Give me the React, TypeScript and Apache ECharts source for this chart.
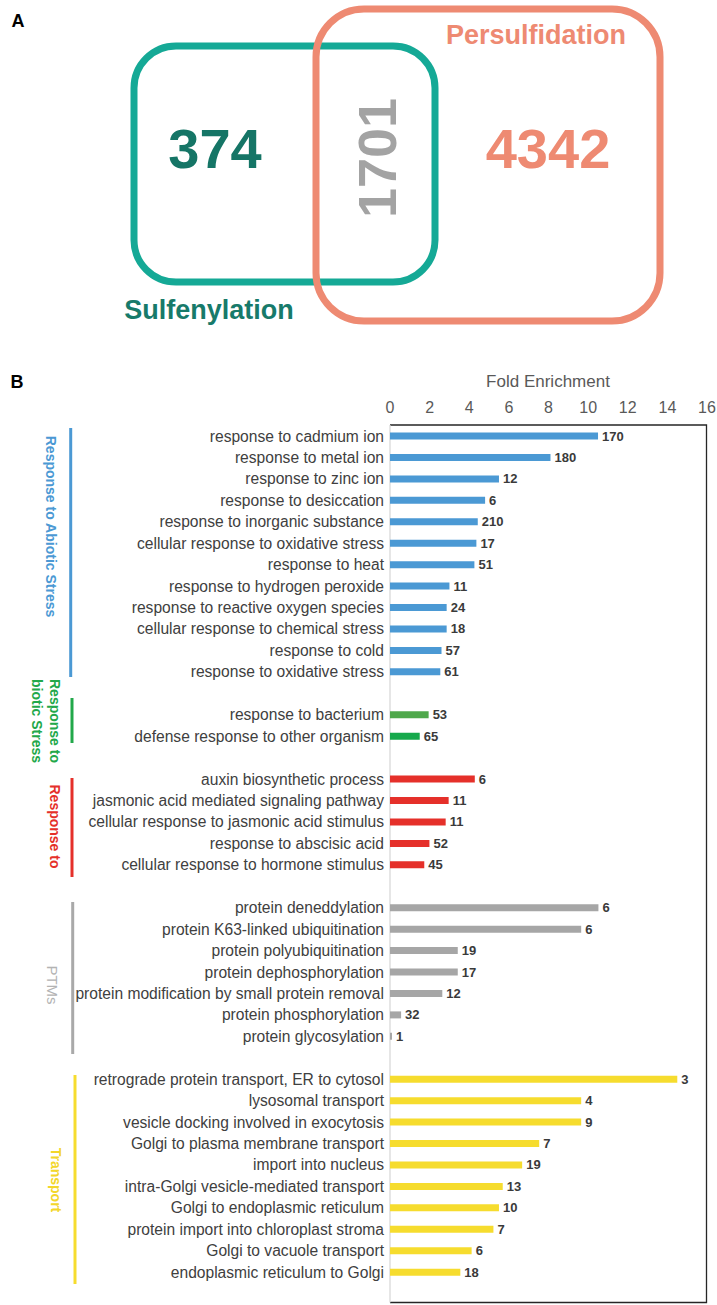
import React, { useEffect, useRef } from "react";
import * as echarts from "echarts";

// ---------- Panel A: Venn counts ----------
const vennLabels = ["Sulfenylation", "Persulfidation"];
const vennOnlySulf = 374;
const vennShared = 1701;
const vennOnlyPersulf = 4342;

// ---------- Panel B: GO enrichment ----------
const abioticTerms = [
  "response to cadmium ion",
  "response to metal ion",
  "response to zinc ion",
  "response to desiccation",
  "response to inorganic substance",
  "cellular response to oxidative stress",
  "response to heat",
  "response to hydrogen peroxide",
  "response to reactive oxygen species",
  "cellular response to chemical stress",
  "response to cold",
  "response to oxidative stress",
];
const abioticFold = [10.5, 8.1, 5.5, 4.8, 4.43, 4.36, 4.26, 3.0, 2.86, 2.86, 2.6, 2.54];
const abioticCount = [170, 180, 12, 6, 210, 17, 51, 11, 24, 18, 57, 61];

const bioticTerms = ["response to bacterium", "defense response to other organism"];
const bioticFold = [1.95, 1.5];
const bioticCount = [53, 65];

const hormoneTerms = [
  "auxin biosynthetic process",
  "jasmonic acid mediated signaling pathway",
  "cellular response to jasmonic acid stimulus",
  "response to abscisic acid",
  "cellular response to hormone stimulus",
];
const hormoneFold = [4.28, 2.96, 2.81, 1.99, 1.73];
const hormoneCount = [6, 11, 11, 52, 45];

const ptmTerms = [
  "protein deneddylation",
  "protein K63-linked ubiquitination",
  "protein polyubiquitination",
  "protein dephosphorylation",
  "protein modification by small protein removal",
  "protein phosphorylation",
  "protein glycosylation",
];
const ptmFold = [10.52, 9.65, 3.42, 3.42, 2.64, 0.56, 0.1];
const ptmCount = [6, 6, 19, 17, 12, 32, 1];

const transportTerms = [
  "retrograde protein transport, ER to cytosol",
  "lysosomal transport",
  "vesicle docking involved in exocytosis",
  "Golgi to plasma membrane transport",
  "import into nucleus",
  "intra-Golgi vesicle-mediated transport",
  "Golgi to endoplasmic reticulum",
  "protein import into chloroplast stroma",
  "Golgi to vacuole transport",
  "endoplasmic reticulum to Golgi",
];
const transportFold = [14.5, 9.65, 9.65, 7.53, 6.67, 5.69, 5.5, 5.22, 4.12, 3.55];
const transportCount = [3, 4, 9, 7, 19, 13, 10, 7, 6, 18];

const xTicks = { min: 0, max: 16, interval: 2 };

const abioticColor = "#4b99d4";
const bioticColors = ["#4fa84b", "#16a94c"];
const hormoneColor = "#e5302a";
const ptmColor = "#a6a6a6";
const transportColor = "#f6dc2e";

const FONT = "'Liberation Sans', Arial, Helvetica, sans-serif";

function buildRows() {
  const groups = [
    { terms: abioticTerms, fold: abioticFold, count: abioticCount, colors: abioticTerms.map(() => abioticColor) },
    { terms: bioticTerms, fold: bioticFold, count: bioticCount, colors: bioticColors },
    { terms: hormoneTerms, fold: hormoneFold, count: hormoneCount, colors: hormoneTerms.map(() => hormoneColor) },
    { terms: ptmTerms, fold: ptmFold, count: ptmCount, colors: ptmTerms.map(() => ptmColor) },
    { terms: transportTerms, fold: transportFold, count: transportCount, colors: transportTerms.map(() => transportColor) },
  ];
  const cats: string[] = [];
  const data: any[] = [];
  const counts: (number | null)[] = [];
  groups.forEach((g, gi) => {
    if (gi > 0) {
      cats.push(" ".repeat(gi));
      data.push("-");
      counts.push(null);
    }
    g.terms.forEach((t, i) => {
      cats.push(t);
      data.push({ value: g.fold[i], itemStyle: { color: g.colors[i] } });
      counts.push(g.count[i]);
    });
  });
  return { cats, data, counts };
}

export default function App() {
  const ref = useRef<HTMLDivElement>(null);
  useEffect(() => {
    document.body.style.margin = "0";
    const chart = echarts.init(ref.current!, null, { renderer: "svg" });
    const { cats, data, counts } = buildRows();

    const gridTop = 425.3;
    const slot = 21.44;
    const gridH = slot * cats.length;

    const groupText = (text: string, x: number, y: number, color: string, weight = "bold", size = 14) => ({
      type: "text",
      x,
      y,
      rotation: -Math.PI / 2,
      style: {
        text,
        fill: color,
        fontSize: size,
        fontWeight: weight,
        fontFamily: FONT,
        lineHeight: 18,
        textAlign: "center",
        textVerticalAlign: "middle",
      },
    });
    const groupLine = (x: number, y1: number, y2: number, color: string) => ({
      type: "line",
      shape: { x1: x, y1, x2: x, y2 },
      style: { stroke: color, lineWidth: 3 },
    });

    const option: any = {
      animation: false,
      grid: { left: 390, top: gridTop, width: 317, height: gridH, outerBoundsMode: "none" },
      xAxis: {
        type: "value",
        position: "top",
        min: xTicks.min,
        max: xTicks.max,
        interval: xTicks.interval,
        axisLine: { show: false },
        axisTick: { show: false },
        splitLine: { show: false },
        axisLabel: { fontSize: 16, color: "#595959", fontFamily: FONT, margin: 10 },
      },
      yAxis: {
        type: "category",
        inverse: true,
        data: cats,
        axisLine: { show: false },
        axisTick: { show: false },
        axisLabel: { fontSize: 15.6, color: "#404040", fontFamily: FONT, margin: 6 },
      },
      series: [
        {
          type: "bar",
          data,
          barWidth: 7,
          label: {
            show: true,
            position: "right",
            distance: 4,
            fontSize: 13,
            fontWeight: "bold",
            color: "#3a3a3a",
            fontFamily: FONT,
            formatter: (p: any) => (counts[p.dataIndex] == null ? "" : String(counts[p.dataIndex])),
          },
        },
      ],
      graphic: [
        // Panel labels
        { type: "text", x: 18, y: 21, style: { text: "A", fontSize: 18, fontWeight: "bold", fill: "#000", fontFamily: FONT, textAlign: "center", textVerticalAlign: "middle" } },
        { type: "text", x: 17, y: 382, style: { text: "B", fontSize: 18, fontWeight: "bold", fill: "#000", fontFamily: FONT, textAlign: "center", textVerticalAlign: "middle" } },
        // Venn
        { type: "rect", shape: { x: 134, y: 46, width: 301, height: 236, r: 42 }, style: { fill: "none", stroke: "#15a996", lineWidth: 7 } },
        { type: "rect", shape: { x: 316, y: 9, width: 344, height: 312, r: 48 }, style: { fill: "none", stroke: "#ee8a72", lineWidth: 7 } },
        { type: "text", x: 215, y: 148, style: { text: String(vennOnlySulf), fontSize: 56, fontWeight: "bold", fill: "#157566", fontFamily: FONT, textAlign: "center", textVerticalAlign: "middle" } },
        { type: "text", x: 548, y: 148, style: { text: String(vennOnlyPersulf), fontSize: 56, fontWeight: "bold", fill: "#ee8a72", fontFamily: FONT, textAlign: "center", textVerticalAlign: "middle" } },
        { type: "text", x: 377, y: 158, rotation: Math.PI / 2, style: { text: String(vennShared), fontSize: 54, fontWeight: "bold", fill: "#a3a3a3", fontFamily: FONT, textAlign: "center", textVerticalAlign: "middle" } },
        { type: "text", x: 536, y: 35, style: { text: vennLabels[1], fontSize: 27, fontWeight: "bold", fill: "#ee8a72", fontFamily: FONT, textAlign: "center", textVerticalAlign: "middle" } },
        { type: "text", x: 209, y: 310, style: { text: vennLabels[0], fontSize: 27, fontWeight: "bold", fill: "#177a6a", fontFamily: FONT, textAlign: "center", textVerticalAlign: "middle" } },
        // Axis title
        { type: "text", x: 548, y: 381.5, style: { text: "Fold Enrichment", fontSize: 17, fill: "#595959", fontFamily: FONT, textAlign: "center", textVerticalAlign: "middle" } },
        // Frame
        { type: "polyline", shape: { points: [[390, 425], [706.5, 425], [706.5, 1302.5], [390, 1302.5]] }, style: { fill: "none", stroke: "#262626", lineWidth: 1.3 } },
        { type: "line", shape: { x1: 390, y1: 425, x2: 390, y2: 1302.5 }, style: { stroke: "#d9d9d9", lineWidth: 1.3 } },
        // Group brackets
        groupLine(70.7, 428, 677, abioticColor),
        groupLine(72, 698, 743, "#22a84a"),
        groupLine(72, 778, 877, hormoneColor),
        groupLine(72.7, 902, 1054, "#a9a9a9"),
        groupLine(75, 1075, 1284, transportColor),
        groupText("Response to Abiotic Stress", 50.7, 526.5, abioticColor),
        groupText("Response to\nbiotic Stress", 46, 721, "#22a84a"),
        groupText("Response to", 55, 826.5, hormoneColor),
        groupText("PTMs", 52, 985, "#b3b3b3", "normal", 15),
        groupText("Transport", 56, 1180, "#f3d62a"),
      ],
    };
    chart.setOption(option);
    return () => chart.dispose();
  }, []);
  return <div ref={ref} style={{ width: 717, height: 1305 }} />;
}
